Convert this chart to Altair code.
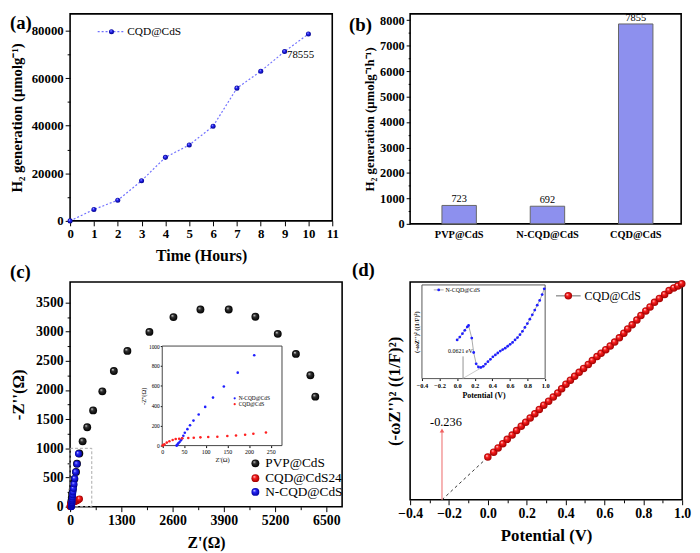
import altair as alt
import pandas as pd

FONT = "Liberation Serif"

# ---------------- (a) cumulative H2 ----------------
time_h = [0, 1, 2, 3, 4, 5, 6, 7, 8, 9, 10]
h2_total = [0, 4800, 8700, 16900, 26700, 31900, 39800, 55800, 62900, 71200, 78555]

# ---------------- (b) rates ----------------
catalysts = ["PVP@CdS", "N-CQD@CdS", "CQD@CdS"]
rates = [723, 692, 7855]

# ---------------- (c) Nyquist ----------------
pvp_zre = [25, 25, 33, 43, 50, 67, 83, 108, 150, 175, 234, 318, 434, 584, 818, 1110, 1453,
           2012, 2622, 3306, 4024, 4700, 5268, 5728, 6095, 6220]
pvp_zim = [15, 50, 96, 152, 220, 292, 372, 473, 596, 738, 912, 1120, 1362, 1650, 1976, 2325,
           2669, 2995, 3249, 3378, 3378, 3255, 2962, 2618, 2252, 1886]
ncqd_zre = [33, 34, 35, 37, 40, 43, 45.7, 48.6, 52, 58, 64, 72, 84, 99, 117, 142, 174, 212]
ncqd_zim = [0, 4, 10, 23, 36, 53, 73, 99, 129, 165, 205, 251, 313, 389, 482, 594, 733, 908]
cqd_zre = [1, 3, 5, 10.5, 16.5, 24, 31, 39, 46, 60, 72.6, 88, 106, 127, 150, 170, 191, 210, 239]
cqd_zim = [2, 6, 13, 30, 43, 56, 66, 69, 73, 76, 79, 83, 86, 89, 96, 102, 109, 119, 132]

# ---------------- (d) Mott-Schottky ----------------
cqd_v = [0.000, 0.030, 0.053, 0.077, 0.100, 0.125, 0.148, 0.172, 0.195, 0.218, 0.242, 0.265,
         0.288, 0.313, 0.337, 0.360, 0.380, 0.402, 0.425, 0.447, 0.470, 0.493, 0.517, 0.538,
         0.562, 0.583, 0.607, 0.630, 0.653, 0.677, 0.700, 0.720, 0.743, 0.767, 0.788, 0.813,
         0.835, 0.858, 0.883, 0.910, 0.933, 0.957, 0.978, 0.998]
cqd_ms = [130, 145, 158, 171, 184, 197, 211, 224, 236, 249, 262, 275, 288, 300, 313, 325, 338,
          352, 364, 376, 388, 400, 412, 424, 436, 446, 457, 468, 480, 493, 507, 520, 533, 547,
          561, 575, 587, 601, 613, 625, 637, 645, 651, 658]
ncqd_v = [0.00, 0.03, 0.06, 0.087, 0.115, 0.13, 0.166, 0.188, 0.216, 0.242, 0.27, 0.297, 0.322,
          0.35, 0.378, 0.406, 0.434, 0.462, 0.49, 0.518, 0.546, 0.574, 0.602, 0.63, 0.658, 0.686,
          0.714, 0.742, 0.77, 0.798, 0.826, 0.854, 0.882, 0.91, 0.938, 0.966, 0.99]
ncqd_ms = [40, 43, 46.5, 50, 53.5, 55, 42, 27, 15.3, 12, 11.5, 12.7, 15, 17.5, 20, 22.5, 24.5,
           26.5, 28.5, 30, 31.5, 33.5, 35.5, 37.5, 40, 42.5, 45.5, 49, 53, 57, 61.5, 66, 71, 76,
           81, 87, 93]
cqd_intercept = -0.236
ncqd_intercept = 0.0621


def sphere(mid, dark):
    return alt.RadialGradient(
        gradient="radial", x1=0.35, y1=0.3, r1=0, x2=0.5, y2=0.5, r2=0.5,
        stops=[alt.GradientStop(offset=0, color="#ffffff"),
               alt.GradientStop(offset=0.35, color=mid),
               alt.GradientStop(offset=1, color=dark)])


BLUE_S = sphere("#2a2aff", "#00008a")
BLACK_S = sphere("#333333", "#000000")
RED_S = sphere("#ff2020", "#a00000")
BLUEC_S = sphere("#2a2aff", "#0000a0")


def txt(label, x, y, size, weight="bold", align="left", baseline="top", color="black"):
    return alt.Chart(pd.DataFrame({"t": [label]})).mark_text(
        font=FONT, fontSize=size, fontWeight=weight, align=align, baseline=baseline, color=color
    ).encode(x=alt.value(x), y=alt.value(y), text="t:N")


def dot(x, y, size, fill):
    return alt.Chart(pd.DataFrame({"t": [0]})).mark_circle(size=size, fill=fill, opacity=1).encode(
        x=alt.value(x), y=alt.value(y))


def hline(x1, x2, y, color, dash=None, width=1.0):
    kw = dict(color=color, strokeWidth=width)
    if dash:
        kw["strokeDash"] = dash
    return alt.Chart(pd.DataFrame({"t": [0]})).mark_rule(**kw).encode(
        x=alt.value(x1), x2=alt.value(x2), y=alt.value(y))


def cond(test, big, small):
    return {"condition": {"test": test, "value": big}, "value": small}


# ================= panel (a) =================
df_a = pd.DataFrame({"t": time_h, "h2": h2_total})
xa = alt.X("t:Q", scale=alt.Scale(domain=[0, 11], nice=False),
           axis=alt.Axis(values=[i / 2 for i in range(23)], format="d", labelOverlap=False,
                         labelExpr="datum.value % 1 === 0 ? datum.label : ''",
                         tickSize=cond("datum.value % 1 === 0", 5, 3),
                         labelFontSize=13, title="Time (Hours)", titleFontSize=16,
                         titlePadding=7))
ya = alt.Y("h2:Q", scale=alt.Scale(domain=[0, 87000], nice=False),
           axis=alt.Axis(values=list(range(0, 80001, 10000)), format="d", labelOverlap=False,
                         labelExpr="datum.value % 20000 === 0 ? datum.label : ''",
                         tickSize=cond("datum.value % 20000 === 0", 5, 3),
                         labelFontSize=13, title="H₂ generation (μmolg⁻¹)", titleFontSize=15,
                         titlePadding=7))
line_a = alt.Chart(df_a).mark_line(color="#7070ff", strokeDash=[2, 2], strokeWidth=1.2).encode(x=xa, y=ya)
pts_a = alt.Chart(df_a).mark_circle(size=26, fill=BLUE_S, opacity=1).encode(x=xa, y=ya)
lab_val_a = alt.Chart(df_a).transform_filter("datum.t == 10").mark_text(
    font=FONT, fontSize=11, dx=-8, dy=21).encode(x=xa, y=ya, text=alt.Text("h2:Q", format="d"))
chart_a = alt.layer(
    line_a, pts_a, lab_val_a,
    hline(28, 55, 18, "#7070ff", [2, 2], 1.2), dot(42, 18, 26, BLUE_S),
    txt("CQD@CdS", 58, 18, 11.5, weight="normal", baseline="middle"),
    txt("(a)", -61, 0, 19),
).properties(width=266, height=210)

# ================= panel (b) =================
df_b = pd.DataFrame({"cat": catalysts, "rate": rates})
xb = alt.X("cat:N", sort=catalysts,
           scale=alt.Scale(paddingInner=0.61, paddingOuter=0.34, align=0.53),
           axis=alt.Axis(title=None, ticks=False, labelAngle=0, labelFontSize=10.5, labelPadding=6))
yb = alt.Y("rate:Q", scale=alt.Scale(domain=[0, 8250], nice=False),
           axis=alt.Axis(values=list(range(0, 8001, 500)), format="d", labelOverlap=False,
                         labelExpr="datum.value % 1000 === 0 ? datum.label : ''",
                         tickSize=cond("datum.value % 1000 === 0", 4, 2),
                         labelFontSize=12.5, title="H₂ generation (μmolg⁻¹h⁻¹)",
                         titleFontSize=13, titlePadding=3))
bars_b = alt.Chart(df_b).mark_bar(fill="#8d90ee", stroke="#666666", strokeWidth=1).encode(x=xb, y=yb)
vals_b = alt.Chart(df_b).mark_text(font=FONT, fontSize=10.5, baseline="middle", dy=-6).encode(
    x=xb, y=yb, text=alt.Text("rate:Q", format="d"))
chart_b = alt.layer(bars_b, vals_b, txt("(b)", -62, 2, 19)).properties(width=275, height=213)

# ================= panel (c) =================
df_pvp = pd.DataFrame({"zre": pvp_zre, "zim": pvp_zim})
df_ncqd = pd.DataFrame({"zre": ncqd_zre, "zim": ncqd_zim})
df_cqd = pd.DataFrame({"zre": cqd_zre, "zim": cqd_zim})

sx_c = alt.Scale(domain=[0, 6900], nice=False)
sy_c = alt.Scale(domain=[0, 3850], nice=False)
ax_x_c = alt.Axis(values=list(range(0, 6501, 650)), format="d", labelOverlap=False,
                  labelExpr="datum.value % 1300 === 0 ? datum.label : ''",
                  tickSize=cond("datum.value % 1300 === 0", 5, 3),
                  labelFontSize=14, title="Z'(Ω)", titleFontSize=16, titlePadding=7)
ax_y_c = alt.Axis(values=list(range(0, 3501, 250)), format="d", labelOverlap=False,
                  labelExpr="datum.value % 500 === 0 ? datum.label : ''",
                  tickSize=cond("datum.value % 500 === 0", 5, 3),
                  labelFontSize=14, title="-Z''(Ω)", titleFontSize=17, titlePadding=8)
xc = alt.X("zre:Q", scale=sx_c, axis=ax_x_c)
yc = alt.Y("zim:Q", scale=sy_c, axis=ax_y_c)
box_c = alt.Chart(pd.DataFrame({"x0": [0], "x1": [550], "y0": [0], "y1": [1000]})).mark_rect(
    fillOpacity=0, stroke="#aaaaaa", strokeDash=[3, 2], strokeWidth=1).encode(
    x=alt.X("x0:Q", scale=sx_c, axis=ax_x_c), x2="x1:Q",
    y=alt.Y("y0:Q", scale=sy_c, axis=ax_y_c), y2="y1:Q")
main_c = alt.layer(
    alt.Chart(df_pvp).mark_circle(size=64, fill=BLACK_S, opacity=1).encode(x=xc, y=yc),
    box_c,
    alt.Chart(df_cqd).mark_circle(size=50, fill=RED_S, opacity=1).encode(x=xc, y=yc),
    alt.Chart(df_ncqd).mark_circle(size=50, fill=BLUEC_S, opacity=1).encode(x=xc, y=yc),
    dot(188, 184, 64, BLACK_S), dot(188, 199, 64, RED_S), dot(188, 213, 64, BLUEC_S),
    txt("PVP@CdS", 198, 184, 13.5, weight="normal", baseline="middle"),
    txt("CQD@CdS24", 198, 199, 13.5, weight="normal", baseline="middle"),
    txt("N-CQD@CdS", 198, 213, 13.5, weight="normal", baseline="middle"),
    txt("(c)", -61, 0, 19, baseline="bottom"),
)

sx_ci = alt.Scale(domain=[0, 276], nice=False, range=[93.5, 215])
sy_ci = alt.Scale(domain=[0, 1000], nice=False, range=[166, 65])
ax_x_ci = alt.Axis(orient="bottom", offset=-62, values=[0, 50, 100, 150, 200, 250],
                   format="d", labelFontSize=6, labelFontWeight="normal", tickSize=2,
                   labelPadding=1, title="Z'(Ω)", titleFontSize=6.5, labelOverlap=False,
                   titleFontWeight="normal", titlePadding=2)
ax_y_ci = alt.Axis(orient="left", offset=-93.5, values=[0, 200, 400, 600, 800, 1000],
                   format="d", labelFontSize=5.5, labelFontWeight="normal", tickSize=2,
                   labelPadding=1, title="-Z''(Ω)", titleFontSize=6.5, labelOverlap=False,
                   titleFontWeight="normal", titlePadding=2)
xci = alt.X("zre:Q", scale=sx_ci, axis=ax_x_ci)
yci = alt.Y("zim:Q", scale=sy_ci, axis=ax_y_ci)
frame_ci = alt.Chart(pd.DataFrame({"x0": [0], "x1": [276], "y0": [0], "y1": [1000]})).mark_rect(
    fill="white", stroke="#444444", strokeWidth=1).encode(
    x=alt.X("x0:Q", scale=sx_ci, axis=ax_x_ci), x2="x1:Q",
    y=alt.Y("y0:Q", scale=sy_ci, axis=ax_y_ci), y2="y1:Q")
inset_c = alt.layer(
    frame_ci,
    alt.Chart(df_ncqd).mark_circle(size=7, color="#1f1fff", opacity=1).encode(x=xci, y=yci),
    alt.Chart(df_cqd).mark_circle(size=7, color="#ff2020", opacity=1).encode(x=xci, y=yci),
    dot(167, 118, 5, "#1f1fff"), dot(167, 124, 5, "#ff2020"),
    txt("N-CQD@CdS", 171, 118, 5.5, weight="normal", baseline="middle"),
    txt("CQD@CdS", 171, 124, 5.5, weight="normal", baseline="middle"),
)
chart_c = alt.layer(main_c, inset_c).resolve_scale(x="independent", y="independent").properties(
    width=276, height=228)

# ================= panel (d) =================
df_dm = pd.DataFrame({"v": cqd_v, "ms": cqd_ms})
df_di = pd.DataFrame({"v": ncqd_v, "ms": ncqd_ms})
even = "round(datum.value*10) % 2 === 0"
sx_d = alt.Scale(domain=[-0.4, 1.0], nice=False, zero=False)
sy_d = alt.Scale(domain=[0, 663], nice=False)
ax_x_d = alt.Axis(values=[round(-0.4 + 0.1 * i, 1) for i in range(15)], format=".1f",
                  labelExpr=even + " ? datum.label : ''", labelOverlap=False,
                  tickSize=cond(even, 5, 3),
                  labelFontSize=14, title="Potential (V)", titleFontSize=17, titlePadding=7)
ax_y_d = alt.Axis(labels=False, ticks=False, title="(-ωZ'')² ((1/F)²)",
                  titleFontSize=17, titlePadding=7)
xd = alt.X("v:Q", scale=sx_d, axis=ax_x_d)
yd = alt.Y("ms:Q", scale=sy_d, axis=ax_y_d)
df_ext = pd.DataFrame({"v": [cqd_intercept, cqd_v[0]], "ms": [0, cqd_ms[0]]})
df_arrow = pd.DataFrame({"v": [cqd_intercept], "ms": [0], "ms2": [207], "tip": [211],
                         "lab": [str(cqd_intercept)], "ly": [238]})
main_d = alt.layer(
    alt.Chart(df_ext).mark_line(color="#333333", strokeDash=[3, 3], strokeWidth=1).encode(x=xd, y=yd),
    alt.Chart(df_arrow).mark_rule(color="#f08080", strokeWidth=1.2).encode(x=xd, y=yd, y2="ms2:Q"),
    alt.Chart(df_arrow).mark_point(shape="triangle-up", filled=True, size=22, color="#f06060",
                                   opacity=1).encode(x=xd, y=alt.Y("tip:Q", scale=sy_d, axis=ax_y_d)),
    alt.Chart(df_arrow).mark_text(font=FONT, fontSize=12.5, dx=4).encode(
        x=xd, y=alt.Y("ly:Q", scale=sy_d, axis=ax_y_d), text="lab:N"),
    alt.Chart(df_dm).mark_line(color="#999999", strokeWidth=1).encode(x=xd, y=yd),
    alt.Chart(df_dm).mark_circle(size=58, fill=RED_S, opacity=1).encode(x=xd, y=yd),
    hline(148, 173, 14, "#999999", None, 1.5), dot(160.5, 14, 58, RED_S),
    txt("CQD@CdS", 177, 14, 12, weight="normal", baseline="middle"),
    txt("(d)", -59, -2, 19, baseline="bottom"),
)

sx_di = alt.Scale(domain=[-0.4, 1.0], nice=False, zero=False, range=[12, 137])
sy_di = alt.Scale(domain=[0, 97], nice=False, range=[98, 3])
ax_x_di = alt.Axis(orient="bottom", offset=-123, values=[-0.4, -0.2, 0, 0.2, 0.4, 0.6, 0.8, 1.0],
                   format=".1f", labelFontSize=6.5, tickSize=2, labelPadding=2, labelOverlap=False,
                   title="Potential (V)", titleFontSize=8, titlePadding=3)
ax_y_di = alt.Axis(orient="left", offset=-12, labels=False, ticks=False,
                   title="(-ωZ'')² ((1/F)²)", titleFontSize=6.5, titlePadding=2)
xdi = alt.X("v:Q", scale=sx_di, axis=ax_x_di)
ydi = alt.Y("ms:Q", scale=sy_di, axis=ax_y_di)
frame_di = alt.Chart(pd.DataFrame({"v0": [-0.4], "v1": [1.0], "m0": [0], "m1": [97]})).mark_rect(
    fill="white", stroke="#555555", strokeWidth=1).encode(
    x=alt.X("v0:Q", scale=sx_di, axis=ax_x_di), x2="v1:Q",
    y=alt.Y("m0:Q", scale=sy_di, axis=ax_y_di), y2="m1:Q")
df_tan = pd.DataFrame({"v": [ncqd_intercept, 0.29], "ms": [0, 12]})
df_mark = pd.DataFrame({"v": [0.067], "ms": [0], "ms2": [23], "lv": [0.037], "ly": [29],
                        "lab": [f"{ncqd_intercept} eV"]})
inset_d = alt.layer(
    frame_di,
    alt.Chart(df_tan).mark_line(color="#bbbbbb", strokeWidth=0.8).encode(x=xdi, y=ydi),
    alt.Chart(df_mark).mark_rule(color="#777777", strokeWidth=0.8).encode(x=xdi, y=ydi, y2="ms2:Q"),
    alt.Chart(df_mark).mark_text(font=FONT, fontSize=6).encode(
        x=alt.X("lv:Q", scale=sx_di, axis=ax_x_di), y=alt.Y("ly:Q", scale=sy_di, axis=ax_y_di),
        text="lab:N"),
    alt.Chart(df_di).mark_line(color="#aaaaaa", strokeWidth=1).encode(x=xdi, y=ydi),
    alt.Chart(df_di).mark_circle(size=8, color="#1f1fff", opacity=1).encode(x=xdi, y=ydi),
    hline(24, 34, 8, "#aaaaaa", None, 1), dot(29, 8, 8, "#1f1fff"),
    txt("N-CQD@CdS", 36, 8, 6, weight="normal", baseline="middle"),
)
chart_d = alt.layer(main_d, inset_d).resolve_scale(x="independent", y="independent").properties(
    width=276, height=221)

chart = alt.concat(
    chart_a, chart_b, chart_c, chart_d, columns=2,
    spacing={"row": 59, "column": 69}, bounds="flush", align="each",
).properties(
    padding={"left": 0, "top": 0, "right": 0, "bottom": 0}, background="white"
).configure(
    padding={"left": 0, "top": 0, "right": 0, "bottom": 0}, background="white"
).configure_view(
    stroke="black", strokeWidth=1.6
).configure_axis(
    grid=False, domain=False, labelFont=FONT, titleFont=FONT, labelFontWeight="bold",
    titleFontWeight="bold", labelColor="black", titleColor="black", tickColor="black",
    tickWidth=1, labelFlush=False, labelOverlap=False, labelPadding=2
)

chart.save("out.html", embed_options={"renderer": "svg", "actions": False})
